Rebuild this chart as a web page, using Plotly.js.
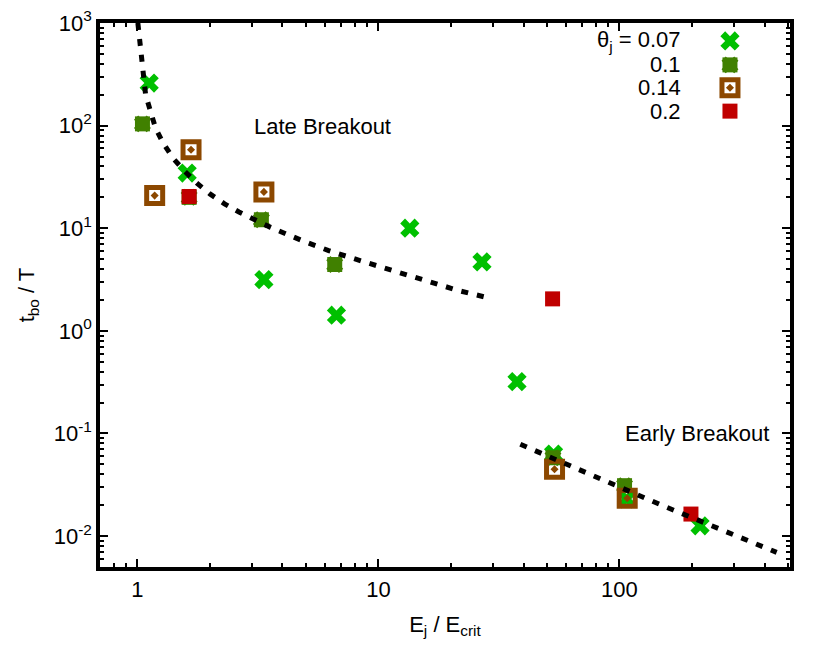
<!DOCTYPE html>
<html>
<head>
<meta charset="utf-8">
<script src="https://cdn.plot.ly/plotly-3.0.1.min.js"></script>
<style>
  body { margin: 0; background: #fff; }
  #chart { width: 830px; height: 664px; }
</style>
</head>
<body>
<div id="chart"></div>
<script>
// theta_j = 0.07
var x07 = [1.12, 1.61, 3.35, 6.7, 13.5, 26.9, 37.6, 53.3, 107, 216];
var y07 = [260, 34.5, 3.16, 1.42, 10, 4.7, 0.32, 0.063, 0.023, 0.0126];
// theta_j = 0.1
var x10 = [1.05, 1.64, 3.27, 6.59, 53, 105];
var y10 = [104, 20, 12.1, 4.43, 0.058, 0.031];
// theta_j = 0.14
var x14 = [1.18, 1.67, 3.35, 53.8, 107.7];
var y14 = [20.8, 58.2, 22.6, 0.0449, 0.0234];
// theta_j = 0.2
var x20 = [1.64, 52.8, 198];
var y20 = [20.4, 2.05, 0.0164];

// fit curves
var lateX = [1.005, 1.025, 1.039, 1.059, 1.082, 1.135, 1.19, 1.28, 1.405, 1.575, 1.762, 2.0, 2.3, 2.64, 3.57, 4.83, 6.22, 8.56, 11.6, 15.9, 21.5, 28.3];
var lateY = [1000, 635, 437, 300, 200, 137, 94.5, 67.6, 48.3, 35.8, 27.6, 21.6, 17.3, 14.4, 10.2, 7.57, 6.05, 4.77, 3.81, 3.04, 2.47, 2.11];
var earlyX = [38.8, 152, 449];
var earlyY = [0.0785, 0.0197, 0.00694];

var legendLabels = ['θ<sub>j</sub> = 0.07', '0.1', '0.14', '0.2'];
var legendRows = [0.967, 0.923, 0.881, 0.838];

var green = '#00c000', dkgreen = '#408000', brown = '#8c4800', red = '#c00000';

var curveLine = {color: 'black', width: 5, dash: '7px,9px'};

function pts(x, y, marker, extra) {
  var t = {x: x, y: y, mode: 'markers', type: 'scatter', marker: marker};
  for (var k in extra || {}) t[k] = extra[k];
  return t;
}

var mX = {symbol: 'x', size: 17, color: green, opacity: 1, line: {width: 0}};
var mSq = {symbol: 'square', size: 15, color: dkgreen, opacity: 1, line: {width: 0}};
var mSqX = {symbol: 'x', size: 15, color: dkgreen, opacity: 1, line: {width: 0}};
var mOpen = {symbol: 'square-open-dot', size: 16, color: brown, opacity: 1, line: {width: 5, color: brown}};
var mRed = {symbol: 'square', size: 15, color: red, opacity: 1, line: {width: 0}};

var lk = {xaxis: 'x2', yaxis: 'y2'};
var kx = 0.913;

var data = [
  pts(x07, y07, mX),
  pts(x10, y10, mSq),
  pts(x10, y10, mSqX),
  pts(x14, y14, mOpen),
  pts(x20, y20, mRed),
  {x: lateX, y: lateY, mode: 'lines', type: 'scatter', line: curveLine},
  {x: earlyX, y: earlyY, mode: 'lines', type: 'scatter', line: curveLine},
  // legend keys
  pts([kx], [legendRows[0]], mX, lk),
  pts([kx], [legendRows[1]], mSq, lk),
  pts([kx], [legendRows[1]], mSqX, lk),
  pts([kx], [legendRows[2]], mOpen, lk),
  pts([kx], [legendRows[3]], mRed, lk)
];

var tickFont = {family: 'Liberation Sans, Arial, sans-serif', size: 22, color: 'black'};

var annotations = [
  {text: 'Late Breakout', xref: 'paper', yref: 'paper', x: 0.323, y: 0.809, xanchor: 'center', yanchor: 'middle', showarrow: false, font: tickFont},
  {text: 'Early Breakout', xref: 'paper', yref: 'paper', x: 0.972, y: 0.245, xanchor: 'right', yanchor: 'middle', showarrow: false, font: tickFont}
];
legendLabels.forEach(function (t, i) {
  annotations.push({text: t, xref: 'paper', yref: 'paper', x: 0.845, y: legendRows[i],
    xanchor: 'right', yanchor: 'middle', showarrow: false, font: tickFont});
});

var layout = {
  width: 830, height: 664,
  margin: {l: 100, r: 40, t: 23, b: 97},
  paper_bgcolor: '#fff', plot_bgcolor: '#fff',
  showlegend: false,
  font: tickFont,
  xaxis: {
    type: 'log', range: [Math.log10(0.7), Math.log10(510)],
    tickvals: [1, 10, 100], ticktext: ['1', '10', '100'],
    ticks: 'inside', ticklen: 8, tickwidth: 1.5, tickcolor: 'black',
    minor: {ticks: 'inside', ticklen: 4, tickwidth: 1.5, tickcolor: 'black', dtick: 'D1', showgrid: false},
    showline: true, linewidth: 3.5, linecolor: 'black', mirror: 'ticks',
    showgrid: false, zeroline: false,
    tickfont: tickFont,
    title: {text: 'E<sub>j</sub> / E<sub>crit</sub>', font: tickFont, standoff: 16}
  },
  yaxis: {
    type: 'log', range: [Math.log10(0.005), 3],
    tickvals: [0.01, 0.1, 1, 10, 100, 1000],
    ticktext: ['10<sup>-2</sup>', '10<sup>-1</sup>', '10<sup>0</sup>', '10<sup>1</sup>', '10<sup>2</sup>', '10<sup>3</sup>'],
    ticks: 'inside', ticklen: 8, tickwidth: 1.5, tickcolor: 'black',
    minor: {ticks: 'inside', ticklen: 4, tickwidth: 1.5, tickcolor: 'black', dtick: 'D1', showgrid: false},
    showline: true, linewidth: 3.5, linecolor: 'black', mirror: 'ticks',
    showgrid: false, zeroline: false,
    tickfont: tickFont,
    title: {text: 't<sub>bo</sub> / T', font: tickFont, standoff: 14}
  },
  xaxis2: {overlaying: 'x', range: [0, 1], visible: false, fixedrange: true},
  yaxis2: {overlaying: 'y', range: [0, 1], visible: false, fixedrange: true},
  annotations: annotations
};

Plotly.newPlot('chart', data, layout, {displayModeBar: false});
</script>
</body>
</html>
